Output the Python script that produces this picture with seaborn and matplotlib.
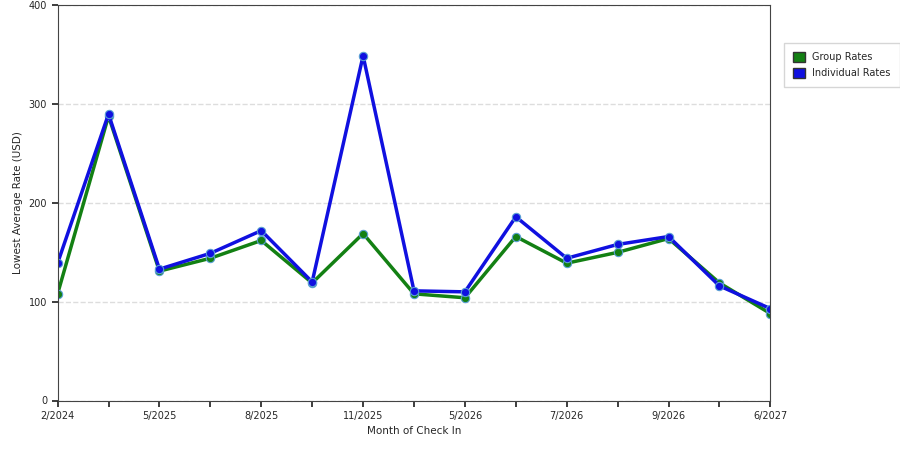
import matplotlib.pyplot as plt
import seaborn as sns
import pandas as pd
from matplotlib.patches import Patch

months = ["2/2024", "", "5/2025", "", "8/2025", "", "11/2025", "", "5/2026", "",
          "7/2026", "", "9/2026", "", "6/2027"]
group_rates = [108, 288, 131, 144, 162, 119, 169, 108, 104, 166, 139, 150, 164, 119, 88]
individual_rates = [139, 290, 133, 149, 172, 120, 349, 111, 110, 186, 144, 158, 166, 116, 93]

idx = list(range(len(months)))
df = pd.concat([
    pd.DataFrame({"x": idx, "rate": group_rates, "series": "Group Rates"}),
    pd.DataFrame({"x": idx, "rate": individual_rates, "series": "Individual Rates"}),
])

sns.set_theme(style="white")
plt.rcParams["font.family"] = ["DejaVu Sans"]
fig = plt.figure(figsize=(9, 4.5), dpi=100)
ax = fig.add_axes([0.064, 0.11, 0.792, 0.878])

colors = {"Group Rates": "#138013", "Individual Rates": "#1010e0"}
sns.lineplot(data=df, x="x", y="rate", hue="series", palette=colors, linewidth=2.5,
             marker="o", markersize=6, markeredgecolor="#5a9fd4", markeredgewidth=0.8,
             legend=False, ax=ax)

ax.set_xlim(0, len(months) - 1)
ax.set_ylim(0, 400)
ax.set_xticks(idx)
ax.set_xticklabels(months, fontsize=7)
ax.set_yticks([0, 100, 200, 300, 400])
ax.tick_params(axis="y", labelsize=7, left=True, length=4)
ax.tick_params(axis="x", bottom=True, length=4)
ax.yaxis.grid(True, linestyle="--", color="#dddddd")
for s in ax.spines.values():
    s.set_color("#444444")
    s.set_linewidth(0.8)
ax.set_xlabel("Month of Check In", fontsize=7.5)
ax.set_ylabel("Lowest Average Rate (USD)", fontsize=7.5)

handles = [Patch(facecolor=colors[k], edgecolor="#333333", label=k) for k in colors]
fig.legend(handles=handles, loc="upper left", bbox_to_anchor=(0.866, 0.915),
           fontsize=7, frameon=True, fancybox=False, edgecolor="#cccccc",
           handlelength=1.2, handleheight=1.2, borderpad=0.9, labelspacing=0.6)

fig.savefig("out.png", dpi=100)
